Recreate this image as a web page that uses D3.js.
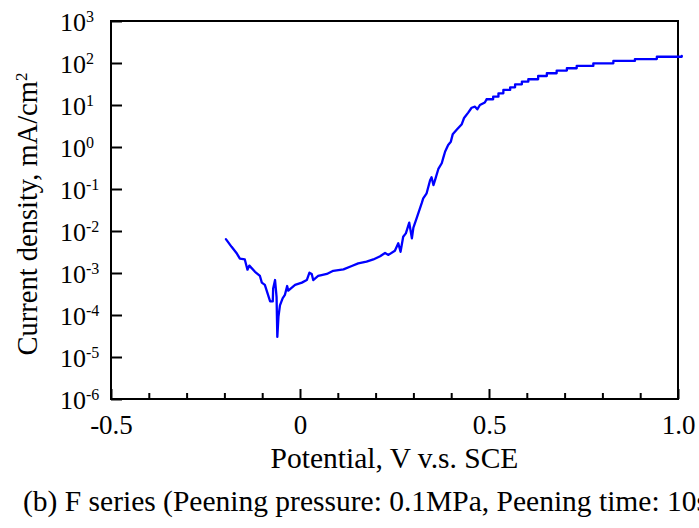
<!DOCTYPE html>
<html>
<head>
<meta charset="utf-8">
<script src="https://cdn.jsdelivr.net/npm/d3@7/dist/d3.min.js"></script>
<style>
  html, body { margin: 0; padding: 0; background: #fff; }
  svg { display: block; }
</style>
</head>
<body>
<svg id="chart" width="699" height="528"></svg>
<script>
// Anodic polarization curve, F series
const potential = [
  -0.196, -0.181, -0.167, -0.159, -0.146, -0.139, -0.134, -0.119, -0.106, -0.101,
  -0.093, -0.079, -0.072, -0.071, -0.066, -0.062, -0.060, -0.057, -0.053, -0.046,
  -0.040, -0.034, -0.031, -0.013, 0.005, 0.018, 0.025, 0.031, 0.035, 0.048,
  0.057, 0.071, 0.088, 0.115, 0.137, 0.154, 0.176, 0.194, 0.212, 0.225,
  0.234, 0.251, 0.260, 0.266, 0.273, 0.280, 0.289, 0.296, 0.300, 0.310,
  0.322, 0.326, 0.335, 0.344, 0.348, 0.353, 0.357, 0.366, 0.375, 0.379,
  0.384, 0.392, 0.399, 0.404, 0.415, 0.428, 0.434, 0.445, 0.454, 0.463,
  0.469, 0.476, 0.489, 0.494, 0.511, 0.525, 0.538, 0.556, 0.569, 0.587,
  0.604, 0.630, 0.653, 0.679, 0.706, 0.732, 0.776, 0.829, 0.886, 0.944, 1.010
];
const currentDensity = [
  6.4e-3, 4.2e-3, 2.9e-3, 2.2e-3, 2.1e-3, 1.2e-3, 1.5e-3, 1.07e-3, 8.5e-4, 5.9e-4,
  5.2e-4, 2.1e-4, 2.1e-4, 4.3e-4, 6.8e-4, 2.7e-4, 3.0e-5, 9.1e-5, 1.7e-4, 2.5e-4,
  3.0e-4, 4.9e-4, 3.8e-4, 5.2e-4, 5.9e-4, 6.8e-4, 1.02e-3, 9.5e-4, 6.8e-4, 8.5e-4,
  8.9e-4, 9.5e-4, 1.13e-3, 1.22e-3, 1.47e-3, 1.70e-3, 1.86e-3, 2.1e-3, 2.5e-3, 3.0e-3,
  2.7e-3, 3.4e-3, 5.1e-3, 3.2e-3, 7.3e-3, 8.8e-3, 1.58e-2, 6.7e-3, 1.2e-2, 2.2e-2,
  4.6e-2, 6.0e-2, 7.9e-2, 0.16, 0.19, 0.124, 0.16, 0.30, 0.41, 0.55,
  0.78, 1.12, 1.34, 2.0, 2.6, 3.5, 4.9, 6.6, 8.6, 9.1,
  7.9, 10, 11.5, 13.7, 15.8, 19, 22.8, 26.4, 31, 36,
  41, 49, 57, 66, 75, 85, 98, 112, 124, 141, 147
];

const xMajorTicks = [-0.5, 0, 0.5, 1.0];
const xTickLabels = ["-0.5", "0", "0.5", "1.0"];
const xMinorTicks = [-0.4, -0.3, -0.2, -0.1, 0.1, 0.2, 0.3, 0.4, 0.6, 0.7, 0.8, 0.9];
const yExponents = [-6, -5, -4, -3, -2, -1, 0, 1, 2, 3];

const xTitle = "Potential, V v.s. SCE";
const yTitle = "Current density, mA/cm";
const yTitleSup = "2";
const caption = "(b) F series (Peening pressure: 0.1MPa, Peening time: 10s)";

const FONT = "'Liberation Serif', 'Times New Roman', Times, 'DejaVu Serif', serif";
const plot = { left: 111, right: 678, top: 21, bottom: 399 };

const svg = d3.select("#chart").attr("font-family", FONT);

const x = d3.scaleLinear().domain([-0.5, 1.0]).range([plot.left, plot.right]);
const y = d3.scaleLog().domain([1e-6, 1e3]).range([plot.bottom, plot.top]);

// frame
svg.append("rect")
  .attr("x", plot.left).attr("y", plot.top)
  .attr("width", plot.right - plot.left).attr("height", plot.bottom - plot.top)
  .attr("fill", "none").attr("stroke", "#000").attr("stroke-width", 2);

// x axis: major and minor ticks pointing inward
const xMajor = svg.append("g")
  .attr("transform", `translate(0,${plot.bottom})`)
  .call(d3.axisBottom(x).tickValues(xMajorTicks).tickSizeInner(-10).tickSizeOuter(0)
    .tickFormat((d, i) => xTickLabels[i]))
  .attr("font-family", FONT);
xMajor.select(".domain").remove();
xMajor.selectAll(".tick line").attr("stroke", "#000").attr("stroke-width", 2);
xMajor.selectAll(".tick text")
  .attr("y", 35).attr("dy", 0)
  .attr("fill", "#000")
  .attr("font-size", 27);

const xMinor = svg.append("g")
  .attr("transform", `translate(0,${plot.bottom})`)
  .call(d3.axisBottom(x).tickValues(xMinorTicks).tickSizeInner(-6).tickSizeOuter(0).tickFormat(""));
xMinor.select(".domain").remove();
xMinor.selectAll(".tick line").attr("stroke", "#000").attr("stroke-width", 2);

// y axis: decade ticks pointing inward, labels as powers of ten
const yAxis = svg.append("g")
  .attr("transform", `translate(${plot.left},0)`)
  .call(d3.axisLeft(y).tickValues(yExponents.map(e => Math.pow(10, e)))
    .tickSizeInner(-11).tickSizeOuter(0).tickFormat(""));
yAxis.select(".domain").remove();
yAxis.selectAll(".tick line").attr("stroke", "#000").attr("stroke-width", 2);

const yLabels = svg.append("g").attr("font-family", FONT);
yExponents.forEach(e => {
  const t = yLabels.append("text")
    .attr("x", 60)
    .attr("y", y(Math.pow(10, e)) + 10)
    .attr("font-size", 26);
  t.append("tspan").text("10");
  t.append("tspan").attr("dy", -9).attr("font-size", 16).text(String(e));
});

// data curve: rising part drawn straight, passive plateau recorded in steps
const pts = potential.map((p, i) => [p, currentDensity[i]]);
const split = potential.findIndex(p => p >= 0.49);
const lower = pts.slice(0, split + 1);
const upper = pts.slice(split);
const curveStroke = (g, data, curve) => g.append("path")
  .datum(data)
  .attr("fill", "none")
  .attr("stroke", "#0000ff")
  .attr("stroke-width", 2.3)
  .attr("stroke-linejoin", "round")
  .attr("stroke-linecap", "round")
  .attr("d", d3.line().curve(curve).x(d => x(d[0])).y(d => y(d[1])));
curveStroke(svg, lower, d3.curveLinear);
curveStroke(svg, upper, d3.curveStepAfter);

// axis titles
svg.append("text")
  .attr("x", (plot.left + plot.right) / 2)
  .attr("y", 468)
  .attr("text-anchor", "middle")
  .attr("font-size", 29.5)
  .text(xTitle);

const yt = svg.append("text")
  .attr("transform", `translate(37,214) rotate(-90)`)
  .attr("text-anchor", "middle")
  .attr("font-size", 28.5);
yt.append("tspan").text(yTitle);
yt.append("tspan").attr("dy", -10).attr("font-size", 17).text(yTitleSup);

// caption
svg.append("text")
  .attr("x", 23)
  .attr("y", 511)
  .attr("font-size", 29.5)
  .text(caption);
</script>
</body>
</html>
